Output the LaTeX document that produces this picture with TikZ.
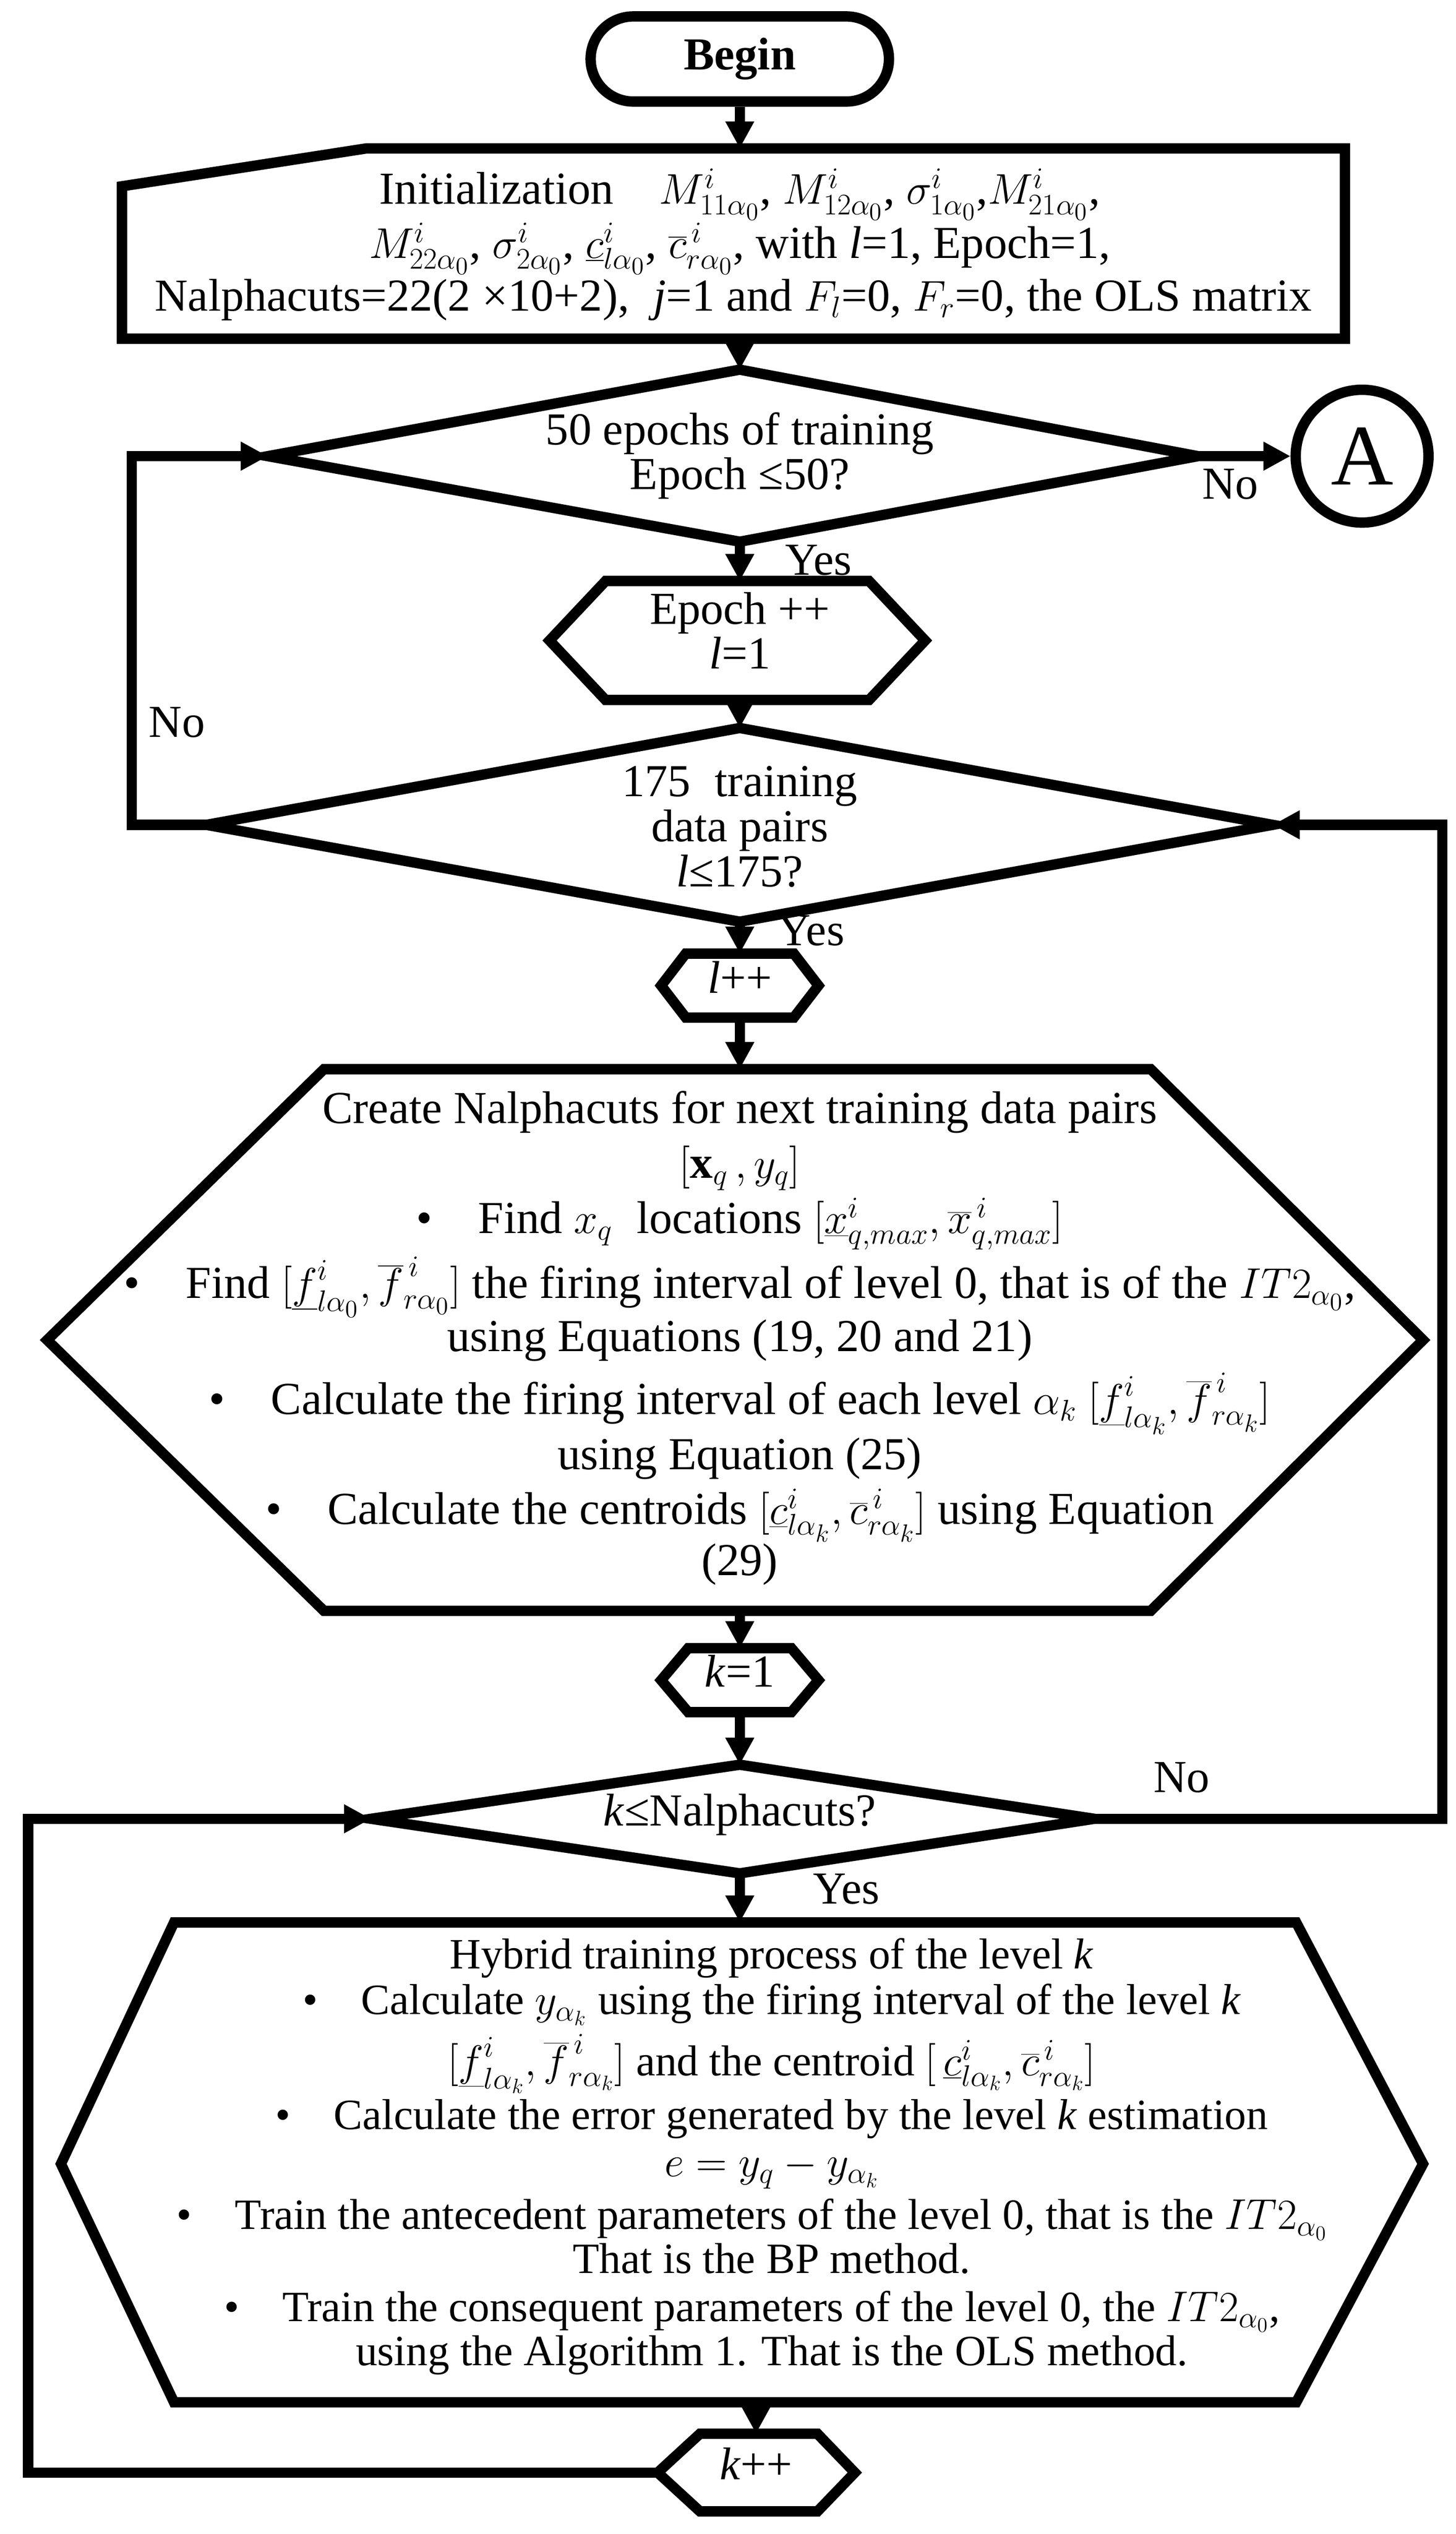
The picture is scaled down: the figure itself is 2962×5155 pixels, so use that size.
\documentclass[tikz,border=0pt]{standalone}
\usepackage{fontspec}
\setmainfont{Liberation Serif}
\usetikzlibrary{arrows.meta,shapes.misc}
\begin{document}
\begin{tikzpicture}[x=0.01cm,y=-0.01cm,
  shp/.style={line width=6pt,line join=miter},
  arr/.style={line width=6pt,-{Triangle[length=0.55cm,width=0.55cm]}},
  ln/.style={line width=6pt},
  txt/.style={font=\fontsize{26.5}{30}\selectfont,inner sep=0pt,anchor=base},
  stxt/.style={font=\fontsize{25}{28}\selectfont,inner sep=0pt,anchor=base},
  lbl/.style={font=\fontsize{26.5}{30}\selectfont,inner sep=0pt}]
\useasboundingbox (0,0) rectangle (2962,5155);
% shapes
\node[draw,shp,rounded rectangle,minimum width=6.3cm,minimum height=1.73cm,font=\fontsize{26.5}{30}\selectfont\bfseries] (begin) at (1505,120) {Begin};
\draw[shp] (248,379) -- (745,302) -- (2736,302) -- (2736,689) -- (248,689) -- cycle;
\coordinate (initT) at (1505,302); \coordinate (initB) at (1505,689);
\draw[shp] (1505,752) coordinate (d1T) -- (2437,928) coordinate (d1R) -- (1505,1102) coordinate (d1B) -- (545,928) coordinate (d1L) -- cycle;
\node[draw,shp,circle,minimum size=2.7cm,font=\fontsize{50}{50}\selectfont] (A) at (2771,928) {A};
\draw[shp] (1118,1303) -- (1232,1182) coordinate (h1T) -- (1768,1182) -- (1882,1303) -- (1768,1424) -- (1232,1424) -- cycle;
\coordinate (h1t) at (1505,1182); \coordinate (h1b) at (1505,1424);
\draw[shp] (1505,1481) coordinate (d2T) -- (2589,1678) coordinate (d2R) -- (1505,1875) coordinate (d2B) -- (420,1678) coordinate (d2L) -- cycle;
\draw[shp] (1345,2005) -- (1395,1940) -- (1615,1940) -- (1665,2005) -- (1615,2070) -- (1395,2070) -- cycle;
\coordinate (lpT) at (1505,1940); \coordinate (lpB) at (1505,2070);
\draw[shp] (96,2726) -- (659,2175) -- (2341,2175) -- (2895,2726) -- (2341,3277) -- (659,3277) -- cycle;
\coordinate (bh1T) at (1505,2175); \coordinate (bh1B) at (1505,3277);
\draw[shp] (1345,3418) -- (1400,3353) -- (1610,3353) -- (1665,3418) -- (1610,3483) -- (1400,3483) -- cycle;
\coordinate (k1T) at (1505,3353); \coordinate (k1B) at (1505,3483);
\draw[shp] (1505,3590) coordinate (d3T) -- (2226,3700) coordinate (d3R) -- (1505,3811) coordinate (d3B) -- (755,3700) coordinate (d3L) -- cycle;
\draw[shp] (124,4402) -- (354,3911) -- (2637,3911) -- (2895,4402) -- (2637,4887) -- (354,4887) -- cycle;
\coordinate (bh2T) at (1505,3911); \coordinate (bh2B) at (1538,4887);
\draw[shp] (1338,5030) coordinate (kpL) -- (1424,4951) -- (1663,4951) -- (1739,5030) -- (1663,5109) -- (1424,5109) -- cycle;
\coordinate (kpT) at (1538,4951);
% connectors
\draw[arr] (begin.south) -- (initT);
\draw[arr] (initB) -- (d1T);
\draw[arr] (d1R) -- (A.west);
\draw[arr] (d1B) -- (h1t);
\draw[arr] (h1b) -- (d2T);
\draw[arr] (d2L) -- (268,1678) -- (268,928) -- (d1L);
\draw[arr] (d2B) -- (lpT);
\draw[arr] (lpB) -- (bh1T);
\draw[arr] (bh1B) -- (k1T);
\draw[arr] (k1B) -- (d3T);
\draw[arr] (d3R) -- (2934,3700) -- (2934,1678) -- (d2R);
\draw[arr] (d3B) -- (bh2T);
\draw[arr] (bh2B) -- (kpT);
\draw[arr] (kpL) -- (57,5030) -- (57,3700) -- (d3L);
% labels
\node[lbl] (no1) at (2503,985) {No};
\node[lbl] (yes1) at (1665,1140) {Yes};
\node[lbl] (no2) at (360,1470) {No};
\node[lbl] (yes2) at (1650,1893) {Yes};
\node[lbl] (no3) at (2404,3616) {No};
\node[lbl] (yes3) at (1722,3843) {Yes};
% texts
\node[txt] (i1) at (1505,415) {Initialization\quad $M^i_{11\alpha_0}$, $M^i_{12\alpha_0}$, $\sigma^i_{1\alpha_0}$,$M^i_{21\alpha_0}$,};
\node[txt] (i2) at (1505,525) {$M^i_{22\alpha_0}$, $\sigma^i_{2\alpha_0}$, $\underline{c}^i_{l\alpha_0}$, $\overline{c}^{\,i}_{r\alpha_0}$, with \textit{l}=1, Epoch=1,};
\node[txt] (i3) at (1492,633) {Nalphacuts=22(2 ×10+2),\; \textit{j}=1 and $F_l$=0, $F_r$=0, the OLS matrix};
\node[txt] (d1a) at (1505,905) {50 epochs of training};
\node[txt] (d1b) at (1505,995) {Epoch ≤50?};
\node[txt] (h1a) at (1505,1270) {Epoch ++};
\node[txt] (h1b2) at (1505,1360) {\textit{l}=1};
\node[txt] (d2a) at (1505,1620) {175\; training};
\node[txt] (d2b) at (1505,1712) {data pairs};
\node[txt] (d2c) at (1505,1804) {\textit{l}≤175?};
\node[txt] (lpp) at (1505,2020) {\textit{l}++};
\node[txt] (b1) at (1505,2285) {Create Nalphacuts for next training data pairs};
\node[txt] (b2) at (1505,2397) {$\left[\mathbf{x}_q\,, y_q\right]$};
\node[txt] (b3) at (1505,2509) {•\quad Find $x_q$\; locations $[\underline{x}^i_{q,max}, \overline{x}^{\,i}_{q,max}]$};
\node[txt] (b4) at (1505,2641) {•\quad Find $[\underline{f}^i_{l\alpha_0}, \overline{f}^{\,i}_{r\alpha_0}]$ the firing interval of level 0, that is of the $IT2_{\alpha_0}$,};
\node[txt] (b5) at (1505,2749) {using Equations (19, 20 and 21)};
\node[txt] (b6) at (1505,2877) {•\quad Calculate the firing interval of each level $\alpha_k$ $[\underline{f}^i_{l\alpha_k}, \overline{f}^{\,i}_{r\alpha_k}]$};
\node[txt] (b7) at (1505,2989) {using Equation (25)};
\node[txt] (b8) at (1505,3101) {•\quad Calculate the centroids $[\underline{c}^i_{l\alpha_k}, \overline{c}^{\,i}_{r\alpha_k}]$ using Equation};
\node[txt] (b9) at (1505,3205) {(29)};
\node[txt] (k1t) at (1505,3432) {\textit{k}=1};
\node[txt] (d3a) at (1505,3714) {\textit{k}≤Nalphacuts?};
\node[stxt] (c1) at (1570,4005) {Hybrid training process of the level \textit{k}};
\node[stxt] (c2) at (1570,4098) {•\quad Calculate $y_{\alpha_k}$ using the firing interval of the level \textit{k}};
\node[stxt] (c3) at (1570,4222) {$[\underline{f}^i_{l\alpha_k}, \overline{f}^{\,i}_{r\alpha_k}]$ and the centroid $[\,\underline{c}^i_{l\alpha_k}, \overline{c}^{\,i}_{r\alpha_k}]$};
\node[stxt] (c4) at (1570,4332) {•\quad Calculate the error generated by the level \textit{k} estimation};
\node[stxt] (c5) at (1570,4428) {$e = y_q - y_{\alpha_k}$};
\node[stxt] (c6) at (1530,4535) {•\quad Train the antecedent parameters of the level 0, that is the $IT2_{\alpha_0}$};
\node[stxt] (c7) at (1570,4625) {That is the BP method.};
\node[stxt] (c8) at (1530,4722) {•\quad Train the consequent parameters of the level 0, the $IT2_{\alpha_0}$,};
\node[stxt] (c9) at (1570,4812) {using the Algorithm 1. That is the OLS method.};
\node[txt] (kpp) at (1538,5044) {\textit{k}++};
\end{tikzpicture}
\end{document}
